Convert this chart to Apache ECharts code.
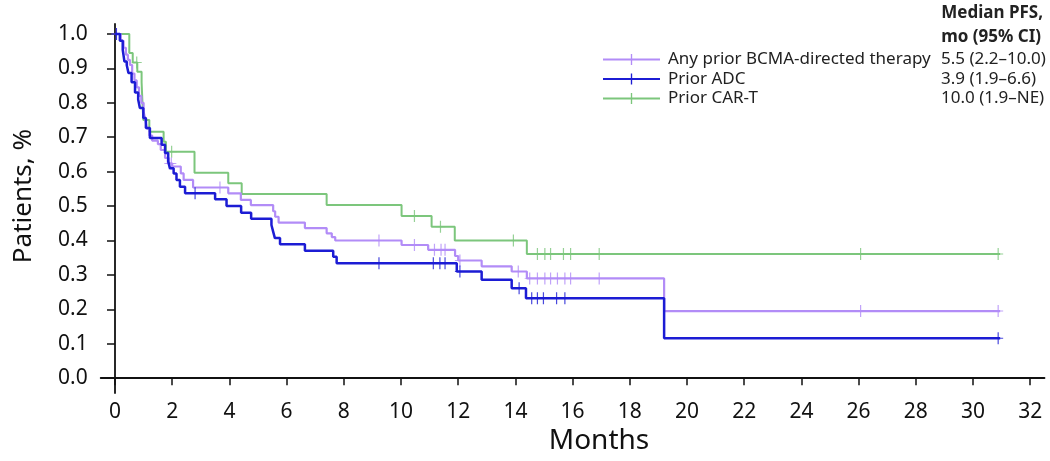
<!DOCTYPE html>
<html><head><meta charset="utf-8">
<script src="https://cdn.jsdelivr.net/npm/echarts@6/dist/echarts.min.js"></script>
<style>html,body{margin:0;padding:0;background:#fff}#c{width:1050px;height:461px}</style>
</head><body><div id="c"></div>
<script>
// ---- data ----
const seriesNames = ['Any prior BCMA-directed therapy', 'Prior ADC', 'Prior CAR-T'];
const medianPFS = ['5.5 (2.2\u201310.0)', '3.9 (1.9\u20136.6)', '10.0 (1.9\u2013NE)'];
const xTicks = [0,2,4,6,8,10,12,14,16,18,20,22,24,26,28,30,32];
const yTicks = [0,0.1,0.2,0.3,0.4,0.5,0.6,0.7,0.8,0.9,1.0];

const bcmaT = [0,0.2,0.3,0.38,0.45,0.52,0.6,0.68,0.76,0.84,0.92,1.0,1.06,1.12,1.2,1.3,1.5,1.6,1.75,1.85,2.0,2.3,2.4,2.73,3.96,4.4,4.75,5.53,5.6,5.72,6.64,7.4,7.58,7.7,10.02,10.95,11.89,12.0,12.82,13.87,14.4,19.2,30.95];
const bcmaS = [1.0,0.98,0.96,0.94,0.925,0.91,0.885,0.865,0.845,0.82,0.80,0.775,0.75,0.725,0.705,0.69,0.68,0.663,0.64,0.624,0.615,0.595,0.576,0.554,0.537,0.518,0.503,0.485,0.469,0.452,0.436,0.421,0.41,0.40,0.387,0.373,0.355,0.342,0.325,0.31,0.29,0.195,0.195];
const bcmaCensor = [0.05,1.9,1.97,3.67,9.23,10.47,11.17,11.4,11.54,12.06,14.1,14.5,14.77,15.03,15.23,15.47,15.73,15.93,16.93,26.07,30.88];

const adcT = [0,0.17,0.27,0.33,0.41,0.47,0.58,0.70,0.81,0.87,0.99,1.08,1.22,1.63,1.75,1.86,1.92,2.05,2.15,2.27,2.45,3.5,3.9,4.41,4.76,5.47,5.53,5.59,5.77,6.64,7.63,7.75,11.95,12.82,13.87,14.37,19.2,30.95];
const adcS = [1.0,0.98,0.954,0.92,0.91,0.887,0.86,0.83,0.81,0.785,0.756,0.727,0.698,0.678,0.654,0.63,0.61,0.595,0.576,0.556,0.537,0.52,0.50,0.481,0.463,0.445,0.426,0.407,0.389,0.37,0.353,0.334,0.31,0.286,0.261,0.232,0.116,0.116];
const adcCensor = [0.05,2.8,9.23,11.13,11.36,11.54,12.06,14.13,14.57,14.77,14.98,15.44,15.73,30.88];

const cartT = [0,0.5,0.62,0.78,0.93,0.96,0.99,1.2,1.7,1.78,2.78,3.96,4.43,7.4,10.02,11.07,11.88,14.4,30.95];
const cartS = [1.0,0.945,0.917,0.89,0.86,0.80,0.75,0.716,0.687,0.658,0.597,0.566,0.535,0.503,0.471,0.44,0.40,0.361,0.361];
const cartCensor = [0.76,1.98,10.47,11.38,13.93,14.77,15.03,15.23,15.68,15.93,16.93,26.07,30.88];

const colors = ['#b28cf7', '#1c1cd4', '#7cc67c'];

// ---- helpers ----
function pairs(T, S) { return T.map((t, i) => [t, S[i]]); }
function survAt(T, S, t) { let v = S[0]; for (let i = 0; i < T.length; i++) { if (T[i] <= t) v = S[i]; } return v; }
function censorPts(T, S, C) { return C.map(t => [t, survAt(T, S, t)]); }

const plus = 'path://M-0.12,-1H0.12V1H-0.12Z M-1,-0.08H1V0.08H-1Z';
const font = '"Noto Sans", "Open Sans", sans-serif';

function lineSeries(name, T, S, color, w, z) {
  return { name, type: 'line', step: 'end', data: pairs(T, S), symbol: plus, symbolSize: [14, 14], showSymbol: false,
    lineStyle: { color, width: w }, itemStyle: { color }, z, animation: false, silent: true };
}
function censorSeries(name, T, S, C, color, z) {
  return { name: name + ' censored', type: 'scatter', data: censorPts(T, S, C), symbol: plus, symbolSize: [10, 12],
    itemStyle: { color }, z, animation: false, silent: true };
}

const chart = echarts.init(document.getElementById('c'), null, { renderer: 'canvas' });
const pfsMap = {}; seriesNames.forEach((n, i) => pfsMap[n] = medianPFS[i]);

chart.setOption({
  animation: false,
  textStyle: { fontFamily: font },
  grid: { left: 100.7, right: 5.5, top: 24, bottom: 68, containLabel: false },
  xAxis: {
    type: 'value', min: -0.5, max: 32.5,
    axisLine: { lineStyle: { color: '#111', width: 1.8 } },
    axisTick: { show: true, length: 7, customValues: xTicks, lineStyle: { color: '#111', width: 1.5 } },
    axisLabel: { customValues: xTicks, fontSize: 21, color: '#111', margin: 9, fontFamily: font },
    splitLine: { show: false }
  },
  yAxis: {
    type: 'value', min: -0.043, max: 1.029,
    axisLine: { show: true, lineStyle: { color: '#111', width: 1.8 } },
    axisTick: { show: true, length: 8, customValues: yTicks, lineStyle: { color: '#111', width: 1.5 } },
    axisLabel: { customValues: yTicks, fontSize: 21, color: '#111', margin: 13, fontFamily: font, formatter: v => (+v).toFixed(1) },
    splitLine: { show: false }
  },
  legend: {
    data: seriesNames, orient: 'vertical', left: 597, top: 46, itemGap: 2.5,
    itemWidth: 57, itemHeight: 14,
    formatter: n => '{a|' + n + '}{b|' + pfsMap[n] + '}',
    textStyle: { fontSize: 17, color: '#222', fontFamily: font, padding: [0, 0, 0, 3],
      rich: { a: { width: 273, fontSize: 17, color: '#222', fontFamily: font }, b: { fontSize: 17, color: '#222', fontFamily: font } } },
    selectedMode: false
  },
  graphic: [
    { type: 'text', right: 7, top: 1, style: { text: 'Median PFS,\nmo (95% CI)', font: 'bold 17px ' + font, fill: '#222', align: 'right', lineHeight: 24 } },
    { type: 'text', x: 599, y: 441, style: { text: 'Months', font: '28px ' + font, fill: '#111', align: 'center', verticalAlign: 'middle' } },
    { type: 'text', x: 24, y: 196, rotation: Math.PI / 2, style: { text: 'Patients, %', font: '26px ' + font, fill: '#111', align: 'center', verticalAlign: 'middle' } }
  ],
  series: [
    lineSeries(seriesNames[0], bcmaT, bcmaS, colors[0], 2.2, 3),
    lineSeries(seriesNames[1], adcT, adcS, colors[1], 2.5, 4),
    lineSeries(seriesNames[2], cartT, cartS, colors[2], 2, 2),
    censorSeries(seriesNames[2], cartT, cartS, cartCensor, colors[2], 2),
    censorSeries(seriesNames[0], bcmaT, bcmaS, bcmaCensor, colors[0], 3),
    censorSeries(seriesNames[1], adcT, adcS, adcCensor, colors[1], 4)
  ]
});
</script></body></html>
